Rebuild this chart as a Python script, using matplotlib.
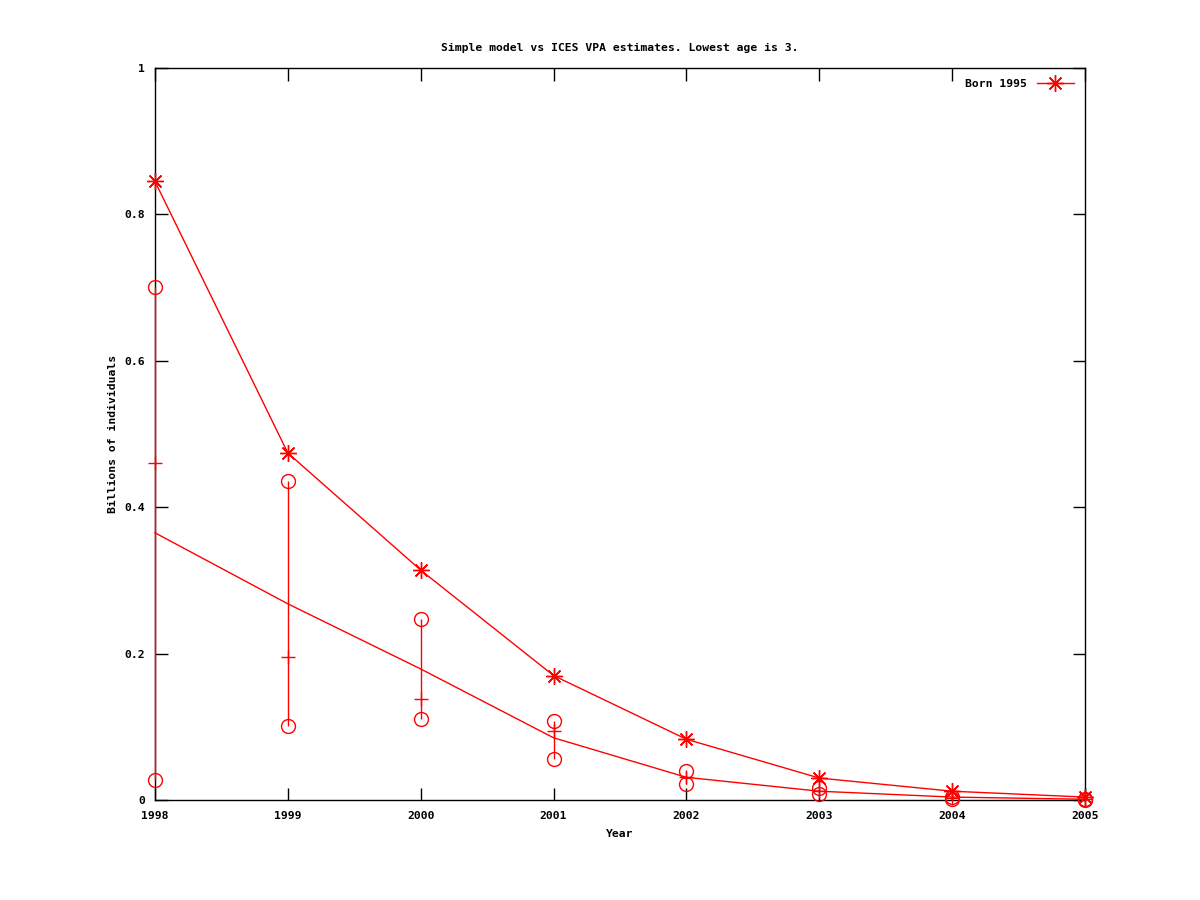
import matplotlib
matplotlib.use("Agg")
import matplotlib.pyplot as plt
from matplotlib.lines import Line2D

years = [1998, 1999, 2000, 2001, 2002, 2003, 2004, 2005]
born1995 = [0.845, 0.474, 0.314, 0.170, 0.083, 0.030, 0.012, 0.004]
model = [0.365, 0.268, 0.179, 0.085, 0.031, 0.012, 0.004, 0.001]
vpa_high = [0.701, 0.436, 0.247, 0.108, 0.039, 0.016, 0.004, 0.002]
vpa_low = [0.028, 0.101, 0.111, 0.056, 0.022, 0.008, 0.001, 0.000]
vpa_mid = [0.460, 0.195, 0.138, 0.094, 0.032, 0.012, 0.003, 0.001]

yticks = [0, 0.2, 0.4, 0.6, 0.8, 1]
ytick_labels = ["0", "0.2", "0.4", "0.6", "0.8", "1"]

plt.rcParams['font.family'] = ['DejaVu Sans Mono']
plt.rcParams['font.weight'] = 'bold'
plt.rcParams['font.size'] = 8.2

fig = plt.figure(figsize=(12, 9), dpi=100)
ax = fig.add_axes([155/1200, 1 - 800/900, (1085-155)/1200, (800-68)/900])

red = '#ff0000'
star = (8, 2, 0)

ax.plot(years, born1995, color=red, lw=1.0, marker=star, markersize=12,
        markeredgewidth=1.0, label='Born 1995', clip_on=False, zorder=4)
ax.plot(years, model, color=red, lw=1.0, clip_on=False, zorder=3)
ax.vlines(years, vpa_low, vpa_high, color=red, lw=1.0, clip_on=False, zorder=3)
ax.plot(years, vpa_high, ls='none', marker='o', mfc='none', mec=red,
        markersize=10, markeredgewidth=1.0, clip_on=False, zorder=4)
ax.plot(years, vpa_low, ls='none', marker='o', mfc='none', mec=red,
        markersize=10, markeredgewidth=1.0, clip_on=False, zorder=4)
ax.plot(years, vpa_mid, ls='none', marker='+', color=red,
        markersize=10, markeredgewidth=1.0, clip_on=False, zorder=4)

ax.set_xlim(1998, 2005)
ax.set_ylim(0, 1)
ax.set_xticks(years)
ax.set_xticklabels([str(y) for y in years])
ax.set_yticks(yticks)
ax.set_yticklabels(ytick_labels)
ax.tick_params(direction='in', length=9, width=1, top=True, right=True,
               labelsize=8.2, colors='black')
ax.tick_params(axis='x', pad=8)
ax.tick_params(axis='y', pad=7)
for s in ax.spines.values():
    s.set_linewidth(1)
    s.set_color('black')
    s.set_zorder(2)

ax.set_xlabel('Year', fontsize=8.2, fontweight='bold', labelpad=6)
ax.set_ylabel('Billions of individuals', fontsize=8.2, fontweight='bold', labelpad=5)
ax.set_title('Simple model vs ICES VPA estimates. Lowest age is 3.', fontsize=8.2,
             fontweight='bold', pad=12)

h = Line2D([0], [0], color=red, lw=1.0, marker=star, markersize=12, markeredgewidth=1.0)
leg = ax.legend([h], ['Born 1995'], loc='upper right', frameon=False,
                markerfirst=False, fontsize=8.2, handlelength=3.2,
                borderaxespad=0.6, handletextpad=0.9)

fig.savefig('out.png', dpi=100)
